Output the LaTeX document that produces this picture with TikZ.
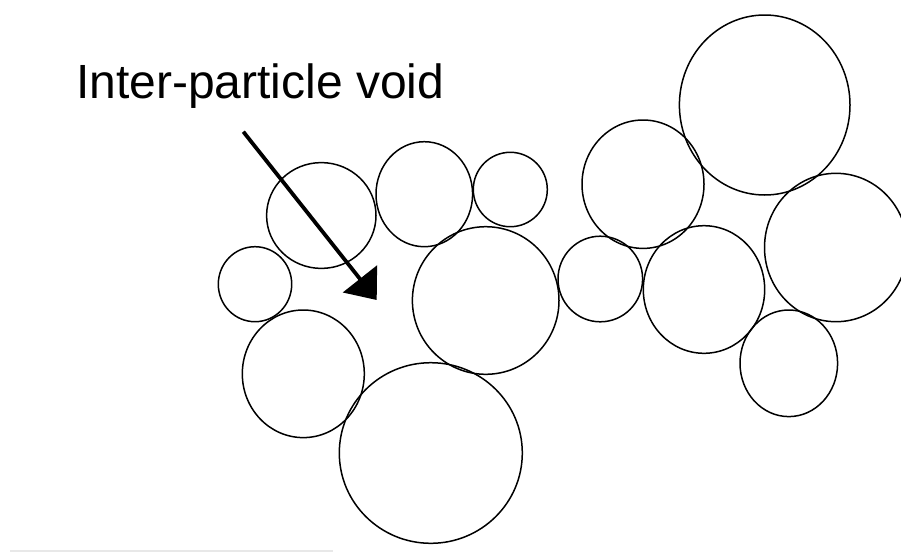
\documentclass[tikz,border=0pt]{standalone}
\usepackage{fontspec}
\setmainfont{Liberation Sans}
\usepackage{tikz}
\usetikzlibrary{arrows.meta, positioning}
\definecolor{rulegray}{RGB}{232,232,232}

\begin{document}
\begin{tikzpicture}[
		x=1pt, y=-1pt,
		grain/.style={draw=black, line width=1.5pt},
		arr/.style={-{Triangle[length=27pt, width=43pt]}, line width=3.8pt},
		lbl/.style={anchor=base west, inner sep=0pt, font=\fontsize{48}{53}\selectfont}
	]
		\useasboundingbox (0,0) rectangle (901,552);
		\clip (0,0) rectangle (901,552);
		% particles, left cluster
		\draw[grain] (321.3,215.5) ellipse [x radius=54.7, y radius=52.9];
		\draw[grain] (424.3,194.2) ellipse [x radius=48.3, y radius=52.5];
		\draw[grain] (510.3,189.5) ellipse [x radius=37, y radius=37.2];
		\draw[grain] (255,284.2) ellipse [x radius=36.7, y radius=37.5];
		\draw[grain] (485.7,300.5) ellipse [x radius=73.3, y radius=73.8];
		\draw[grain] (303.3,373.8) ellipse [x radius=61, y radius=63.8];
		\draw[grain] (430.8,453) ellipse [x radius=91.5, y radius=90.3];
		% particles, right cluster
		\draw[grain] (643,184.2) ellipse [x radius=61, y radius=64.2];
		\draw[grain] (764.7,105) ellipse [x radius=85.3, y radius=90];
		\draw[grain] (600.3,279) ellipse [x radius=42.3, y radius=42.8];
		\draw[grain] (704,289.5) ellipse [x radius=60.7, y radius=63.8];
		\draw[grain] (836,247.5) ellipse [x radius=71.5, y radius=74.2];
		\draw[grain] (788.8,363.3) ellipse [x radius=48.8, y radius=53.3];
		% label and pointer into the void
		\node[lbl] (voidlbl) at (76,98.3) {Inter-particle void};
		\coordinate (tail) at (243.3,131.7);
		\coordinate (void) at (376.7,300);
		\draw[arr] (tail) -- (void);
		\draw[rulegray, line width=1.5pt] (10,551) -- (333,551);
	\end{tikzpicture}
\end{document}
